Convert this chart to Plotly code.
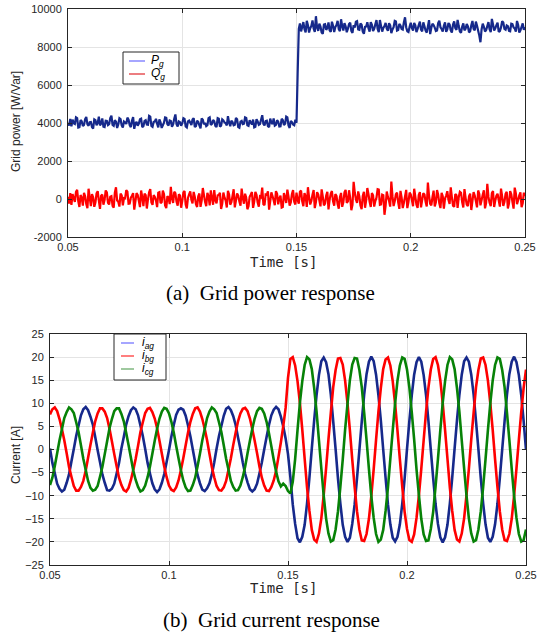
import plotly.graph_objects as go

W, H = 537, 636

# sampling of the recorded signals (s)
T_START = 0.05
T_STEP_P = 0.0005   # power signals
T_STEP_I = 0.001    # phase currents

# grid active power P_g [W], 0.05 s .. 0.25 s
p_grid = [
    4010, 3870, 4220, 3820, 4180, 3990, 3950, 4300, 4260, 3760, 3780, 4150, 4090, 3840, 3900, 4210, 4320, 3930, 3860, 4040,
    4050, 3790, 3710, 4190, 4150, 3880, 4000, 4330, 3880, 3970, 4240, 3810, 3790, 4120, 4110, 3890, 3940, 4260, 4390, 3900,
    3850, 4140, 4070, 3740, 3920, 4250, 4200, 3870, 3760, 4080, 4030, 3950, 4280, 4180, 3890, 3780, 4120, 4310, 3690, 3990,
    4060, 3860, 3970, 4200, 4230, 3780, 3830, 4110, 4150, 3920, 3910, 4380, 4340, 3850, 3800, 4060, 4080, 4220, 3960, 3770,
    4190, 4040, 3740, 3880, 4020, 4290, 4270, 3930, 3870, 4130, 4100, 3800, 3930, 4230, 4450, 3940, 3810, 4080, 4040, 3860,
    3980, 4250, 4210, 3820, 3770, 4090, 4130, 4020, 3900, 4180, 4250, 3790, 3840, 4120, 4060, 3880, 3720, 4240, 4170, 3930,
    4010, 3830, 3880, 4260, 4300, 3900, 3950, 4160, 4090, 3850, 3790, 4250, 4220, 3810, 3860, 4190, 4140, 4030, 3990, 3870,
    4360, 4010, 3830, 4120, 4050, 3880, 3910, 4260, 4200, 3790, 3750, 4070, 4110, 3940, 3960, 4300, 4270, 3880, 3850, 4140,
    4030, 3920, 4180, 3770, 3800, 4200, 4080, 3900, 3940, 4170, 4410, 3960, 3870, 4100, 4120, 3830, 3780, 4230, 4020, 3940,
    4240, 3860, 3900, 4150, 4070, 3810, 3820, 4220, 4160, 3890, 3960, 4330, 4290, 3870, 3740, 4110, 4050, 3920, 3880, 4170,
    4010, 6600, 8950,
    9240, 8820, 9050, 9310, 8930, 8770, 9380, 9150, 8760, 8990, 9110, 9400, 8980, 8800, 9620, 9020, 8850, 9230, 9070, 8760,
    8690, 9180, 9200, 8900, 9010, 9290, 8880, 8790, 9330, 9120, 8790, 9050, 9150, 9380, 8940, 8830, 9460, 9100, 8870, 9250,
    9090, 8780, 8960, 9210, 9280, 8850, 8740, 9150, 9030, 9330, 9360, 8920, 8900, 9240, 9170, 8810, 8700, 9060, 9080, 9300,
    8990, 8810, 9310, 9170, 8840, 8960, 9190, 9420, 8950, 8780, 9420, 9110, 8810, 9000, 9100, 9270, 8970, 8850, 9250, 9140,
    8730, 8920, 9040, 9380, 9350, 8860, 8890, 9210, 9130, 8950, 8920, 9310, 9560, 9040, 8830, 8790, 9060, 9280, 9000, 8870,
    9270, 9140, 8780, 8950, 9160, 9330, 8910, 8820, 9300, 9090, 8860, 8760, 9080, 9410, 8680, 9010, 9220, 9150, 9020, 8840,
    8870, 9260, 9390, 9040, 8950, 8810, 9120, 9290, 8800, 8930, 9260, 9180, 8880, 8760, 9180, 9350, 8990, 8900, 9430, 9100,
    8820, 8750, 9070, 9240, 8880, 8960, 9210, 9090, 8770, 8830, 9140, 9370, 8960, 8870, 9340, 9120, 8850, 8600, 8250, 8920,
    9230, 9060, 8810, 8900, 9100, 9310, 8940, 8780, 9480, 9190, 8870, 8990, 9150, 9280, 8790, 8840, 9030, 9360, 9290, 8950,
    8910, 9130, 9090, 8850, 8830, 9220, 9200, 9030, 8970, 8810, 9370, 9160, 8760, 8880, 9060, 9240, 8900, 9050,
]

# grid reactive power Q_g [Var]
q_grid = [
    120, -240, 310, -310, 260, 40, -150, 380, 480, -120, -420, 210, 60, -350, 330, 150, -260, -480, 540, 90,
    -380, 260, 90, -410, -180, 300, 410, -90, -520, 170, 230, -300, -60, 450, 350, -200, -290, 120, 150, -360,
    -450, 330, 620, -80, -140, -400, 280, 190, -330, 50, 40, 460, 390, -250, -240, 70, 170, 310, -560, -130,
    310, 220, -90, -430, 450, 100, -370, 280, 200, -500, -20, 360, 520, -180, -310, 210, 110, -70, -430, 330,
    360, -220, -170, 440, 270, -340, -480, 150, 80, -270, 640, 20, -210, 380, 300, -150, -350, 250, 190, -460,
    -110, 350, 420, -290, -500, 60, 250, 400, -40, -230, 370, 110, -270, -420, 140, 290, -410, -90, 580, 200,
    -160, -380, 320, 150, -340, 450, 60, -300, 470, -60, -230, 190, 210, 330, -520, -260, 340, 80, -80, -450,
    430, 240, -300, -170, 160, 510, -440, -80, 290, 180, -130, -350, 550, 60, -250, 280, 70, -540, -380, 120,
    240, 370, -470, -130, 380, 220, -190, -400, 130, 90, 600, -270, -320, 240, 220, 410, -560, -120, 350, 160,
    -60, -330, 410, 270, -280, 40, 180, -450, -420, 310, 90, -210, 490, 130, -350, -180, 260, 470, -140, -290,
    330,
    -50, -250, 380, 440, -120, -380, 310, 150, -420, 620, 90, -290, -100, 230, 470, -480, -160, 360, 240, -70,
    -390, 510, 120, -330, -240, 190, 380, -550, -30, 290, 420, -120, -350, 260, 160, -260, -510, 100, 320, -410,
    -180, 350, 480, -200, -120, 460, 60, -590, -310, 900, 340, -30, -210, 400, 130, -340, -540, 160, 380, -460,
    -60, 580, 260, -150, -420, 310, 190, -400, -110, 70, 520, 500, -300, -280, 230, 200, -830, -350, 390, 110,
    -90, -400, 920, 150, -370, -120, 250, 340, -180, -520, 430, 90, -480, -200, 130, 480, -480, -160, 340, 240,
    -60, -380, 540, 120, -300, -470, 210, 360, -440, -50, 300, 240, -140, -390, 860, 170, -250, -330, 90, 440,
    -390, -180, 470, 230, -220, -480, 330, 140, -510, 20, 180, 410, -40, -260, 610, 100, -350, -410, 260, 200,
    -470, 90, 380, 330, -160, -450, 520, 60, -290, -380, 140, 280, -580, -100, 360, 180, -110, -440, 450, 260,
    -330, -60, 230, 460, -490, -200, 800, 110, -200, -370, 310, 420, -420, -80, 170, 280, -70, -400, 550, 140,
    -360, -160, 270, 380, -500, -230, 410, 250, -150, -510, 600, 300, -270, -60, 190, 350, -430, -220, 330, 150,
]

# grid phase currents [A]
i_ag = [
    0.2, -2.9, -5.1, -7.4, -8.5, -9.1, -8.7, -7.2, -5.4, -2.6, 0.1, 2.9, 5.2, 7.4, 8.7, 9.2, 8.5, 7.1, 5.4, 2.7,
    -0.1, -2.7, -5.4, -7.2, -8.8, -8.9, -8.5, -7.4, -5.2, -2.9, 0.2, 2.7, 5.4, 7.2, 8.5, 9.1, 8.7, 7.4, 5.2, 2.9,
    0.1, -2.9, -5.2, -7.3, -8.6, -9.2, -8.6, -7.2, -5.3, -2.7, -0.1, 2.8, 5.3, 7.5, 8.6, 8.9, 8.6, 7.3, 5.2, 2.8,
    0.0, -2.8, -5.5, -7.3, -8.7, -9.0, -8.4, -7.3, -5.4, -2.8, 0.2, 2.9, 5.1, 7.3, 8.8, 9.2, 8.5, 7.2, 5.3, 2.6,
    0.1, -2.8, -5.3, -7.1, -8.6, -9.1, -8.6, -7.4, -5.2, -2.8, 0.0, 2.7, 5.3, 7.4, 8.6, 9.2, 8.7, 7.1, 5.0, 2.4,
    -1.0, -6.0, -11.9, -16.1, -19.2, -20.1, -18.9, -16.3, -11.7, -6.1, 0.2, 6.3, 11.8, 16.1, 19.1, 19.9, 18.9, 16.3, 11.9, 6.1,
    0.1, -6.3, -11.7, -16.3, -18.9, -20.0, -19.1, -16.1, -11.9, -6.2, -0.1, 6.1, 11.9, 16.3, 19.0, 20.1, 19.1, 16.2, 11.7, 6.3,
    0.0, -6.1, -11.9, -16.2, -19.1, -19.9, -18.9, -16.2, -11.8, -6.3, 0.1, 6.2, 11.7, 16.2, 18.9, 20.0, 19.0, 16.1, 11.8, 6.2,
    -0.1, -6.2, -11.8, -16.1, -19.0, -20.1, -19.0, -16.3, -11.7, -6.1, 0.2, 6.3, 11.8, 16.2, 19.1, 19.9, 19.0, 16.2, 11.9, 6.1,
    0.1, -6.2, -11.7, -16.2, -19.1, -20.0, -18.9, -16.2, -11.8, -6.2, 0.0, 6.1, 11.9, 16.3, 19.0, 20.1, 18.9, 16.1, 11.8, 6.2,
    -0.1,
]
i_bg = [
    7.6, 8.7, 9.1, 8.3, 6.6, 4.4, 2.0, -0.8, -3.8, -5.9, -7.9, -8.9, -8.9, -8.1, -6.8, -4.6, -1.8, 1.0, 3.6, 6.1,
    7.8, 8.9, 8.9, 8.2, 6.8, 4.5, 1.8, -1.0, -3.6, -6.1, -7.7, -8.8, -9.1, -8.3, -6.6, -4.4, -2.0, 0.8, 3.8, 5.9,
    7.9, 8.8, 9.0, 8.1, 6.7, 4.6, 1.9, -0.9, -3.7, -6.0, -7.8, -8.7, -9.0, -8.2, -6.7, -4.5, -1.9, 0.9, 3.7, 6.0,
    7.7, 8.9, 9.1, 8.2, 6.6, 4.5, 2.0, -0.9, -3.8, -6.0, -7.9, -8.8, -8.9, -8.2, -6.8, -4.4, -1.9, 1.0, 3.6, 6.1,
    7.8, 8.8, 9.0, 8.3, 6.7, 4.4, 1.9, -0.8, -3.7, -6.1, -7.8, -8.9, -9.0, -8.1, -6.7, -4.6, -1.6, 1.5, 5.0, 9.0,
    15.5, 19.6, 20.0, 18.2, 14.8, 10.1, 4.3, -2.0, -8.2, -13.3, -17.4, -19.5, -20.0, -18.2, -14.9, -9.9, -4.1, 2.2, 8.0, 13.5,
    17.2, 19.7, 19.8, 18.4, 14.9, 10.0, 4.2, -2.2, -8.1, -13.4, -17.3, -19.7, -19.8, -18.3, -15.0, -10.1, -4.3, 2.1, 8.2, 13.3,
    17.4, 19.5, 19.9, 18.2, 14.8, 9.9, 4.1, -2.1, -8.0, -13.5, -17.2, -19.6, -20.0, -18.4, -14.8, -10.0, -4.2, 2.0, 8.1, 13.4,
    17.3, 19.6, 20.0, 18.3, 15.0, 10.1, 4.2, -2.0, -8.2, -13.3, -17.4, -19.5, -19.9, -18.2, -14.9, -9.9, -4.2, 2.2, 8.0, 13.5,
    17.2, 19.7, 19.9, 18.3, 14.9, 10.0, 4.3, -2.1, -8.1, -13.4, -17.3, -19.6, -19.8, -18.3, -15.0, -10.0, -4.1, 2.1, 8.1, 13.3,
    17.3,
]
i_cg = [
    -7.7, -6.1, -3.6, -0.8, 2.0, 4.4, 6.8, 8.1, 9.1, 8.7, 7.9, 5.9, 3.8, 0.9, -2.0, -4.4, -6.8, -8.3, -8.9, -8.7,
    -7.9, -5.9, -3.8, -1.0, 1.8, 4.6, 6.6, 8.3, 8.9, 8.9, 7.7, 6.1, 3.6, 1.0, -1.8, -4.6, -6.6, -8.1, -9.1, -8.8,
    -7.8, -6.0, -3.7, -0.9, 1.9, 4.5, 6.7, 8.2, 9.0, 8.8, 7.8, 6.0, 3.7, 0.8, -1.9, -4.5, -6.7, -8.2, -9.0, -8.9,
    -7.7, -6.1, -3.6, -0.9, 2.0, 4.4, 6.8, 8.2, 9.1, 8.7, 7.9, 5.9, 3.8, 0.9, -2.0, -4.4, -6.8, -8.1, -8.9, -8.8,
    -7.8, -6.0, -3.7, -0.8, 1.9, 4.5, 6.7, 8.3, 9.0, 8.8, 7.8, 6.0, 3.5, 0.7, -2.2, -4.8, -6.9, -8.0, -7.4, -7.9,
    -9.0, -9.5, -7.0, -2.1, 4.2, 10.1, 14.8, 18.3, 20.0, 19.5, 17.4, 13.3, 8.2, 2.0, -4.1, -10.0, -14.9, -18.2, -19.9, -19.6,
    -17.3, -13.4, -8.1, -2.2, 4.3, 9.9, 15.0, 18.4, 19.8, 19.7, 17.2, 13.5, 8.0, 2.1, -4.2, -10.1, -14.8, -18.3, -20.0, -19.5,
    -17.4, -13.3, -8.2, -2.0, 4.1, 10.0, 14.9, 18.2, 19.9, 19.6, 17.3, 13.4, 8.1, 2.2, -4.3, -9.9, -15.0, -18.4, -19.8, -19.7,
    -17.2, -13.5, -8.0, -2.1, 4.2, 10.1, 14.8, 18.3, 20.0, 19.5, 17.4, 13.3, 8.2, 2.0, -4.1, -10.0, -14.9, -18.2, -19.9, -19.6,
    -17.3, -13.4, -8.1, -2.1, 4.2, 10.0, 14.9, 18.3, 19.9, 19.6, 17.2, 13.5, 8.0, 2.1, -4.2, -10.1, -14.8, -18.3, -19.9, -19.6,
    -17.3,
]

x_ticks = [0.05, 0.1, 0.15, 0.2, 0.25]
x_tick_text = ['0.05', '0.1', '0.15', '0.2', '0.25']
p_ticks = [-2000, 0, 2000, 4000, 6000, 8000, 10000]
p_tick_text = ['-2000', '0', '2000', '4000', '6000', '8000', '10000']
i_ticks = [-25, -20, -15, -10, -5, 0, 5, 10, 15, 20, 25]

BLUE = '#16298b'
RED = '#ff0000'
GREEN = '#078207'
AX = '#262626'


def fx(px):
    return px / W


def fy(py):
    return 1 - py / H


fig = go.Figure()

fig.add_trace(go.Scatter(y=p_grid, x0=T_START, dx=T_STEP_P, mode='lines', name='P_g',
                         line=dict(color=BLUE, width=2.2, simplify=False), xaxis='x', yaxis='y'))
fig.add_trace(go.Scatter(y=q_grid, x0=T_START, dx=T_STEP_P, mode='lines', name='Q_g',
                         line=dict(color=RED, width=2.2, simplify=False), xaxis='x', yaxis='y'))

for vals, nm, col in [(i_ag, 'i_ag', BLUE), (i_bg, 'i_bg', RED), (i_cg, 'i_cg', GREEN)]:
    fig.add_trace(go.Scatter(y=vals, x0=T_START, dx=T_STEP_I, mode='lines', name=nm,
                             line=dict(color=col, width=2.6, simplify=False), xaxis='x2', yaxis='y2'))

axis_style = dict(
    showline=True, linecolor=AX, linewidth=1, mirror='ticks',
    ticks='inside', ticklen=4, tickcolor=AX, automargin=False,
    showgrid=True, gridcolor='#e4e4e4', gridwidth=1, zeroline=False,
    tickfont=dict(family='Liberation Sans, Arial', size=11, color=AX),
)

fig.update_layout(
    width=W, height=H,
    margin=dict(l=0, r=0, t=0, b=0),
    paper_bgcolor='white', plot_bgcolor='white',
    showlegend=False,
    xaxis=dict(domain=[fx(68), fx(525)], range=[0.05, 0.25], tickvals=x_ticks, ticktext=x_tick_text,
               anchor='y', **axis_style),
    yaxis=dict(domain=[fy(237), fy(9)], range=[-2000, 10000], tickvals=p_ticks, ticktext=p_tick_text,
               anchor='x', ticklabelstandoff=3, **axis_style),
    xaxis2=dict(domain=[fx(50), fx(526)], range=[0.05, 0.25], tickvals=x_ticks, ticktext=x_tick_text,
                anchor='y2', **axis_style),
    yaxis2=dict(domain=[fy(565), fy(334)], range=[-25, 25], tickvals=i_ticks,
                anchor='x2', ticklabelstandoff=3, **axis_style),
)

# legend boxes drawn in the MATLAB style (short thin sample lines)
leg_font = dict(family='Liberation Sans, Arial', size=12, color='black')
legends = [
    dict(box=(123, 52, 179, 84), line_x=(129, 145), text_x=149,
         items=[('<i>P<sub>g</sub></i>', '#6b6bff', 61), ('<i>Q<sub>g</sub></i>', '#e0262b', 74)]),
    dict(box=(114, 334, 166, 380), line_x=(121, 134), text_x=140,
         items=[('<i>i<sub>ag</sub></i>', '#6b6bff', 343), ('<i>i<sub>bg</sub></i>', '#ff2a2a', 356),
                ('<i>i<sub>cg</sub></i>', '#5fa55f', 369)]),
]
for lg in legends:
    x0, y0, x1, y1 = lg['box']
    fig.add_shape(type='rect', xref='paper', yref='paper', x0=fx(x0), x1=fx(x1), y0=fy(y1), y1=fy(y0),
                  line=dict(color=AX, width=1), fillcolor='white', layer='above')
    for txt, col, yy in lg['items']:
        fig.add_shape(type='line', xref='paper', yref='paper', x0=fx(lg['line_x'][0]), x1=fx(lg['line_x'][1]),
                      y0=fy(yy), y1=fy(yy), line=dict(color=col, width=1.2), layer='above')
        fig.add_annotation(xref='paper', yref='paper', x=fx(lg['text_x']), y=fy(yy), text=txt,
                           showarrow=False, xanchor='left', yanchor='middle', font=leg_font)

lab_font = dict(family='Liberation Sans Narrow, Liberation Sans, Arial', size=12, color=AX)
time_font = dict(family='DejaVu Sans Mono, DejaVu Sans', size=14, color=AX)
cap_font = dict(family='Liberation Serif, Times New Roman', size=21, color='black')

annots = [
    dict(x=fx(16), y=fy(122), text='Grid power [W/Var]', textangle=-90, font=lab_font),
    dict(x=fx(283), y=fy(262), text='Time [s]', font=time_font),
    dict(x=fx(270), y=fy(293), text='(a)  Grid power response', font=cap_font),
    dict(x=fx(16), y=fy(455), text='Current [A]', textangle=-90, font=lab_font),
    dict(x=fx(283), y=fy(588), text='Time [s]', font=time_font),
    dict(x=fx(271), y=fy(620), text='(b)  Grid current response', font=cap_font),
]
for a in annots:
    fig.add_annotation(xref='paper', yref='paper', showarrow=False, xanchor='center', yanchor='middle', **a)

# the page's default body margin would shift the fixed-size figure
fig.write_html("out.html", config={'displayModeBar': False},
               post_script="document.body.style.margin='0px';")
